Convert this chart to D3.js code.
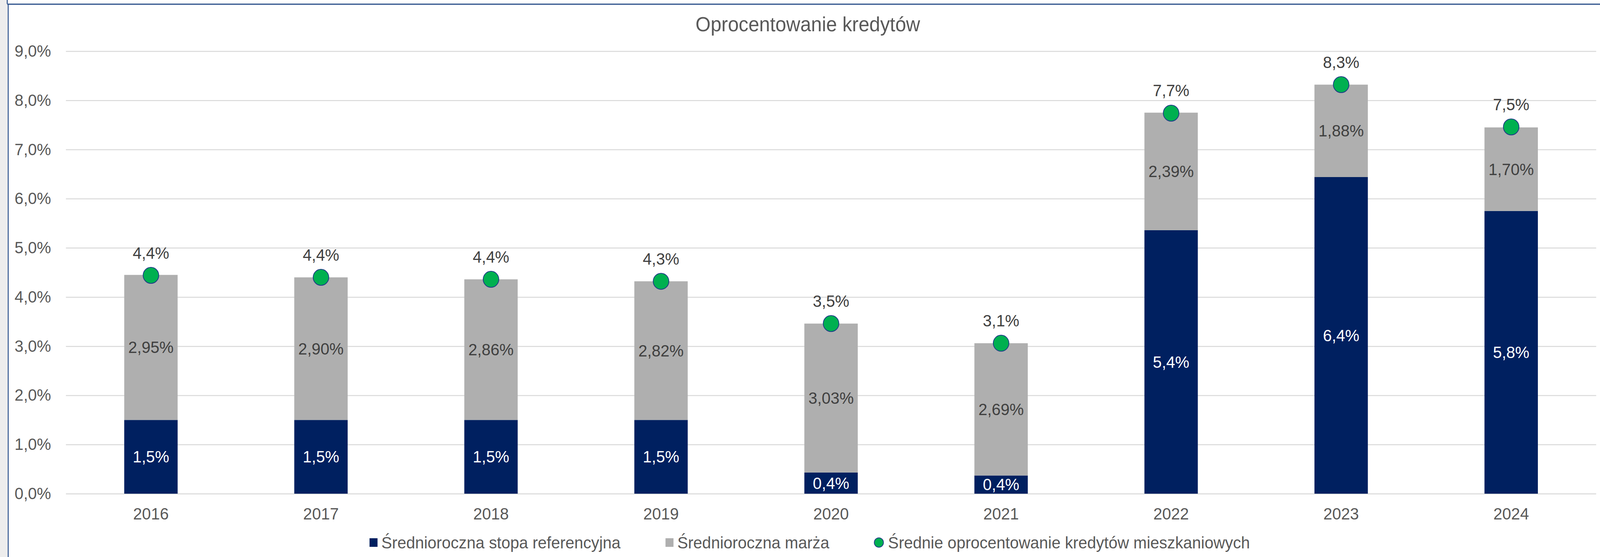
<!DOCTYPE html>
<html>
<head>
<meta charset="utf-8">
<script src="https://cdn.jsdelivr.net/npm/d3@7"></script>
<style>
  html, body { margin: 0; padding: 0; overflow: hidden; background: #ededed; width: 100%; height: 100%; }
  #chart { width: 100vw; height: 100vh; }
  svg { display: block; }
  text { font-family: "Liberation Sans", Arial, sans-serif; }
</style>
</head>
<body>
<div id="chart"></div>
<script>
// data
var years = ["2016", "2017", "2018", "2019", "2020", "2021", "2022", "2023", "2024"];
var refRate = [1.5, 1.5, 1.5, 1.5, 0.43, 0.37, 5.36, 6.44, 5.75];
var margin = [2.95, 2.90, 2.86, 2.82, 3.03, 2.69, 2.39, 1.88, 1.70];
var avgRate = [4.44, 4.40, 4.36, 4.32, 3.46, 3.06, 7.74, 8.32, 7.46];
var yTicks = [0, 1, 2, 3, 4, 5, 6, 7, 8, 9];
var seriesNames = ["Średnioroczna stopa referencyjna", "Średnioroczna marża", "Średnie oprocentowanie kredytów mieszkaniowych"];

var W = 4199, H = 1425;
var colNavy = "#002060", colGray = "#afafaf", colGreen = "#00b050";

// drawn in a 4199x1425 coordinate space, stretched to whatever the window is
var svg = d3.select("#chart").append("svg")
    .attr("width", "100%")
    .attr("height", "100%")
    .attr("viewBox", "0 0 " + W + " " + H)
    .attr("preserveAspectRatio", "none");

// white chart area with the blue selection border
svg.append("rect").attr("x", 20).attr("y", 0).attr("width", W - 20).attr("height", H).attr("fill", "#fff");
svg.append("line").attr("x1", 21.5).attr("x2", 21.5).attr("y1", 10).attr("y2", H)
   .attr("stroke", "#2a4f8a").attr("stroke-width", 2.5);
svg.append("line").attr("x1", 19).attr("x2", W).attr("y1", 10.7).attr("y2", 10.7)
   .attr("stroke", "#2a4f8a").attr("stroke-width", 3);
svg.append("line").attr("x1", 19).attr("x2", 19).attr("y1", 0).attr("y2", 10)
   .attr("stroke", "#2a4f8a").attr("stroke-width", 2.5);

// scales
var x = d3.scaleBand().domain(years).range([173, 4189])
    .paddingInner(0.686).paddingOuter(0.343);
var y = d3.scaleLinear().domain([0, 9]).range([1263, 131]);

var fmt1 = function(v) { return v.toFixed(1).replace(".", ",") + "%"; };
var fmt2 = function(v) { return v.toFixed(2).replace(".", ",") + "%"; };

// title
svg.append("text")
   .attr("x", 2120).attr("y", 80)
   .attr("text-anchor", "middle")
   .attr("font-size", "51px")
   .attr("fill", "#595959")
   .text("Oprocentowanie kredytów");

// gridlines + y labels
var yAxis = svg.append("g")
   .attr("transform", "translate(173,0)")
   .call(d3.axisLeft(y).tickValues(yTicks).tickSize(-(4189 - 173)).tickPadding(39)
         .tickFormat(function(d) { return fmt1(d); }));
yAxis.select(".domain").remove();
yAxis.selectAll(".tick line").attr("stroke", "#d9d9d9").attr("stroke-width", 2.5);
yAxis.selectAll(".tick text").attr("font-size", "42px").attr("fill", "#595959")
     .attr("font-family", "Liberation Sans, Arial, sans-serif");

// x labels
var xAxis = svg.append("g")
   .attr("transform", "translate(0,1263)")
   .call(d3.axisBottom(x).tickSize(0).tickPadding(36));
xAxis.select(".domain").remove();
xAxis.selectAll(".tick text").attr("font-size", "42px").attr("fill", "#595959")
     .attr("font-family", "Liberation Sans, Arial, sans-serif");

// stacked bars
var rows = years.map(function(yr, i) {
    return { year: yr, ref: refRate[i], margin: margin[i], avg: avgRate[i] };
});

svg.selectAll(".bar-ref")
   .data(rows)
   .enter().append("rect")
   .attr("class", "bar-ref")
   .attr("x", function(d) { return x(d.year); })
   .attr("width", x.bandwidth())
   .attr("y", function(d) { return y(d.ref); })
   .attr("height", function(d) { return y(0) - y(d.ref); })
   .attr("fill", colNavy);

svg.selectAll(".bar-margin")
   .data(rows)
   .enter().append("rect")
   .attr("class", "bar-margin")
   .attr("x", function(d) { return x(d.year); })
   .attr("width", x.bandwidth())
   .attr("y", function(d) { return y(d.ref + d.margin); })
   .attr("height", function(d) { return y(d.ref) - y(d.ref + d.margin); })
   .attr("fill", colGray);

// segment labels
svg.selectAll(".lbl-ref")
   .data(rows)
   .enter().append("text")
   .attr("class", "lbl-ref")
   .attr("x", function(d) { return x(d.year) + x.bandwidth() / 2; })
   .attr("y", function(d) { return (y(0) + y(d.ref)) / 2; })
   .attr("dy", "0.35em")
   .attr("text-anchor", "middle")
   .attr("font-size", "42px")
   .attr("fill", "#fff")
   .text(function(d) { return fmt1(d.ref); });

svg.selectAll(".lbl-margin")
   .data(rows)
   .enter().append("text")
   .attr("class", "lbl-margin")
   .attr("x", function(d) { return x(d.year) + x.bandwidth() / 2; })
   .attr("y", function(d) { return (y(d.ref) + y(d.ref + d.margin)) / 2; })
   .attr("dy", "0.35em")
   .attr("text-anchor", "middle")
   .attr("font-size", "42px")
   .attr("fill", "#404040")
   .text(function(d) { return fmt2(d.margin); });

// average rate dots
svg.selectAll(".dot")
   .data(rows)
   .enter().append("circle")
   .attr("class", "dot")
   .attr("cx", function(d) { return x(d.year) + x.bandwidth() / 2; })
   .attr("cy", function(d) { return y(d.avg); })
   .attr("r", 20.5)
   .attr("fill", colGreen)
   .attr("stroke", "#1f3c88")
   .attr("stroke-width", 2);

svg.selectAll(".lbl-avg")
   .data(rows)
   .enter().append("text")
   .attr("class", "lbl-avg")
   .attr("x", function(d) { return x(d.year) + x.bandwidth() / 2; })
   .attr("y", function(d) { return y(d.avg) - 43; })
   .attr("text-anchor", "middle")
   .attr("font-size", "42px")
   .attr("fill", "#404040")
   .text(function(d) { return fmt1(d.avg); });

// legend
var legend = svg.append("g");
var lx = 0;
seriesNames.forEach(function(name, i) {
    var g = legend.append("g").attr("transform", "translate(" + lx + ",0)");
    if (i < 2) {
        g.append("rect").attr("x", 0).attr("y", -11).attr("width", 21).attr("height", 22)
         .attr("fill", i === 0 ? colNavy : colGray);
    } else {
        g.append("ellipse").attr("cx", 12).attr("cy", 0).attr("rx", 12).attr("ry", 12)
         .attr("fill", colGreen).attr("stroke", "#1f3c88").attr("stroke-width", 2);
    }
    var t = g.append("text").attr("x", i < 2 ? 31 : 36).attr("y", 0).attr("dy", "0.35em")
     .attr("font-size", "42px").attr("fill", "#595959").text(name);
    lx += (i < 2 ? 31 : 36) + t.node().getComputedTextLength() + 118;
});
var lw = lx - 118;
legend.attr("transform", "translate(" + (2125 - lw / 2) + ",1388)");
</script>
</body>
</html>
